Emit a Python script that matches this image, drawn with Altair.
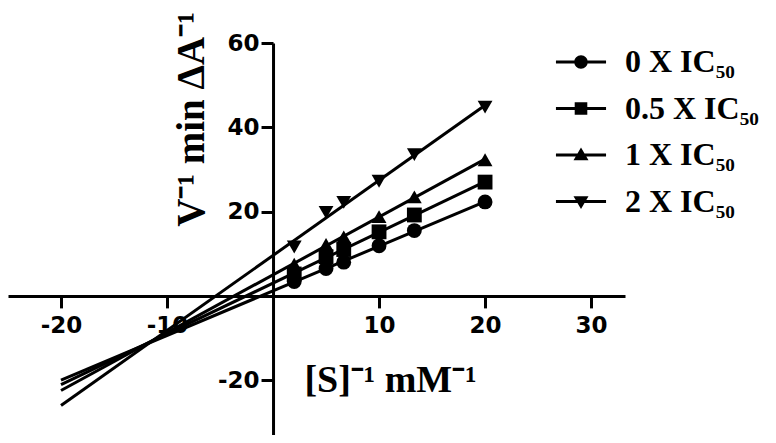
import altair as alt
import pandas as pd

# ---- data ----
inv_s = [2, 5, 6.67, 10, 13.33, 20]
series_names = ["0 X IC₅₀", "0.5 X IC₅₀", "1 X IC₅₀", "2 X IC₅₀"]
y_0 = [3.4, 6.5, 8.0, 11.9, 15.5, 22.3]
y_05 = [5.2, 9.3, 11.0, 15.2, 19.2, 27.0]
y_1 = [7.5, 12.2, 14.0, 18.8, 23.5, 32.3]
y_2 = [11.6, 19.8, 22.2, 27.2, 33.5, 44.8]
x_ticks = [-20, -10, 10, 20, 30]
y_ticks = [-20, 20, 40, 60]

rows = []
for name, ys in zip(series_names, [y_0, y_05, y_1, y_2]):
    for xv, yv in zip(inv_s, ys):
        rows.append({"x": xv, "y": yv, "series": name})
df = pd.DataFrame(rows)

# ---- layout ----
W, H = 617, 392
x_dom = [-25.0, 33.2]
y_dom = [-33.0, 60.0]
x_off = -W * (0 - x_dom[0]) / (x_dom[1] - x_dom[0])
y_off = -H * (0 - y_dom[0]) / (y_dom[1] - y_dom[0])

tick_font = "DejaVu Sans"
serif = "Liberation Serif"
fix_minus = "replace(datum.label, '\u2212', '-')"

xscale = alt.Scale(domain=x_dom, nice=False, zero=False)
yscale = alt.Scale(domain=y_dom, nice=False, zero=False)

x_axis = alt.Axis(
    values=x_ticks, offset=y_off, grid=False,
    domainWidth=3, domainColor="black", tickWidth=3, tickColor="black", tickSize=12,
    labelFont=tick_font, labelFontWeight="bold", labelFontSize=23, labelColor="black",
    labelPadding=7, labelFlush=False, labelExpr=fix_minus,
    title="[S]⁻¹ mM⁻¹", titleFont=serif, titleFontWeight="bold", titleFontSize=38,
    titleColor="black", titleX=382, titleY=96, titleBaseline="alphabetic", titleAlign="center",
)
y_axis = alt.Axis(
    values=y_ticks, offset=x_off, grid=False,
    domainWidth=3, domainColor="black", tickWidth=3, tickColor="black", tickSize=12,
    labelFont=tick_font, labelFontWeight="bold", labelFontSize=23, labelColor="black",
    labelPadding=2, labelFlush=False, labelExpr=fix_minus,
    title="V⁻¹ min ΔA⁻¹", titleFont=serif, titleFontWeight="bold", titleFontSize=39,
    titleColor="black", titleX=-82, titleY=76, titleBaseline="middle", titleAlign="center",
    titleAngle=270,
)

base = alt.Chart(df)

lines = base.transform_regression(
    "x", "y", groupby=["series"], extent=[-20, 20]
).mark_line(color="black", strokeWidth=3, clip=True).encode(
    x=alt.X("x:Q", scale=xscale, axis=x_axis),
    y=alt.Y("y:Q", scale=yscale, axis=y_axis),
    detail="series:N",
)

points = base.mark_point(filled=True, color="black", size=220, opacity=1).encode(
    x=alt.X("x:Q", scale=xscale),
    y=alt.Y("y:Q", scale=yscale),
    shape=alt.Shape(
        "series:N",
        scale=alt.Scale(domain=series_names,
                        range=["circle", "square", "triangle-up", "triangle-down"]),
        legend=None,
    ),
)

bar = "M-1.67,-0.1H1.67V0.1H-1.67Z"
legend_paths = [
    bar + "M0.45,0A0.45,0.45 0 1 1 -0.45,0A0.45,0.45 0 1 1 0.45,0Z",
    bar + "M-0.42,-0.42H0.42V0.42H-0.42Z",
    bar + "M0,-0.5L0.5,0.35H-0.5Z",
    bar + "M-0.5,-0.35H0.5L0,0.5Z",
]

legend_layer = base.mark_point(filled=True, color="black", opacity=0).encode(
    x=alt.X("x:Q", scale=xscale),
    y=alt.Y("y:Q", scale=yscale),
    shape=alt.Shape(
        "series:N",
        scale=alt.Scale(domain=series_names, range=legend_paths),
        legend=alt.Legend(
            title=None, orient="none", legendX=557, legendY=3,
            symbolSize=900, symbolFillColor="black", symbolStrokeColor="black",
            symbolStrokeWidth=0.5, symbolOpacity=1,
            labelFont=serif, labelFontSize=32, labelFontWeight="bold",
            labelColor="black", labelOffset=28, rowPadding=14.5, labelLimit=300,
        ),
    ),
)

chart = alt.layer(lines, points, legend_layer).resolve_scale(
    shape="independent"
).properties(
    width=W, height=H,
    autosize=alt.AutoSizeParams(type="none"),
    padding={"left": 0, "top": 35, "right": 143, "bottom": 0},
    background="white",
).configure_view(stroke=None)

chart.save("out.html", embed_options={"renderer": "svg", "actions": False})
